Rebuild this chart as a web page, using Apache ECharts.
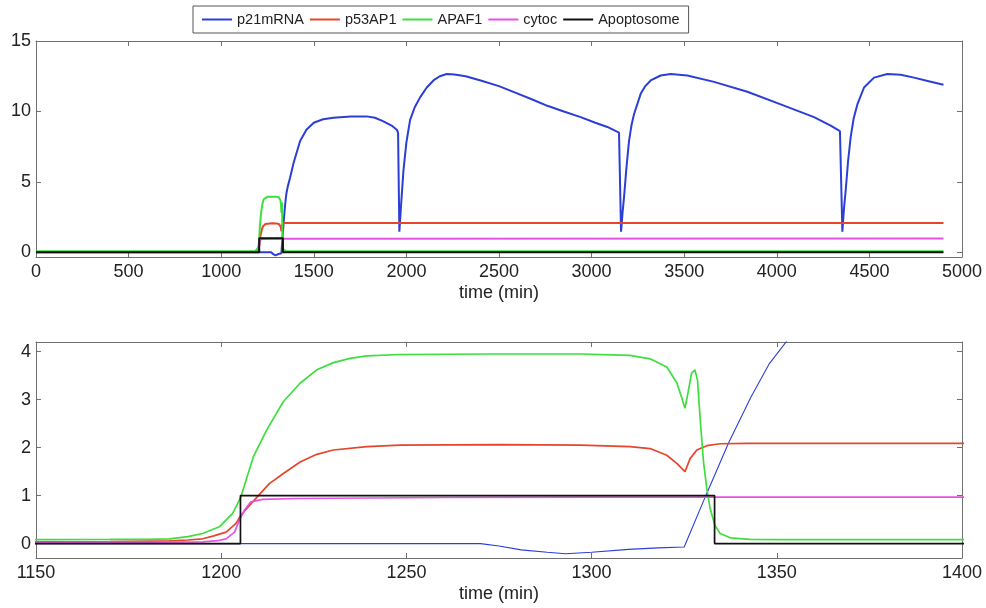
<!DOCTYPE html>
<html>
<head>
<meta charset="utf-8">
<script src="https://cdn.jsdelivr.net/npm/echarts@6/dist/echarts.min.js"></script>
<style>html,body{margin:0;padding:0;background:#fff;}#chart{width:986px;height:608px;}</style>
</head>
<body>
<div id="chart"></div>
<script>
// ---- Data ----
const seriesNames = ['p21mRNA', 'p53AP1', 'APAF1', 'cytoc', 'Apoptosome'];

const p21Time = [0,1150,1270,1275,1281,1288,1293,1300,1310,1318,1325,1331,1337,1343,1348,1353,1360,1372,1390,1426,1460,1500,1550,1606,1700,1786,1830,1876,1920,1948,1955,1962,1972,1984,2000,2020,2045,2074,2110,2146,2180,2218,2260,2320,2401,2500,2581,2680,2761,2850,2941,3020,3085,3148,3159,3167,3175,3188,3202,3215,3229,3265,3290,3319,3373,3427,3517,3661,3841,4021,4201,4291,4341,4354,4362,4372,4385,4399,4415,4435,4471,4525,4597,4669,4741,4820,4900];
const p21Value = [0,0,0,-0.05,-0.13,-0.18,-0.21,-0.18,-0.12,-0.09,-0.07,1.03,2.1,3.05,3.75,4.25,4.7,5.3,6.3,7.9,8.7,9.2,9.45,9.55,9.65,9.65,9.55,9.3,9.0,8.7,8.5,1.46,3.5,5.8,7.8,9.4,10.3,11.0,11.7,12.2,12.5,12.66,12.62,12.5,12.2,11.8,11.37,10.85,10.4,10.0,9.6,9.2,8.9,8.5,1.46,2.8,3.9,6.0,7.9,9.0,9.8,11.25,11.8,12.2,12.55,12.66,12.55,12.1,11.4,10.5,9.6,9.0,8.6,1.46,3.0,4.4,6.5,8.2,9.5,10.5,11.7,12.4,12.66,12.6,12.4,12.15,11.9];

const p53Time = [0,1150,1170,1186,1191,1195,1198,1201.3,1204,1205.3,1208.5,1213,1216.8,1221.3,1225.8,1230.3,1239.3,1248.3,1275,1297,1310.4,1315.8,1320.3,1323,1325.2,1326.6,1328.4,1331.1,1334.7,1342,4900];
const p53Value = [0.03,0.034,0.04,0.055,0.075,0.10,0.16,0.24,0.42,0.59,0.87,1.25,1.46,1.70,1.86,1.95,2.02,2.05,2.06,2.05,2.02,1.98,1.84,1.67,1.5,1.77,1.95,2.04,2.08,2.09,2.09];

const apafTime = [0,1150,1170,1180,1186,1191,1195,1199.5,1203.1,1205.3,1206.7,1208.7,1212.3,1216.8,1221.3,1225.8,1230.3,1234.8,1239.3,1248.3,1275,1297,1310.4,1315.8,1320.3,1323,1324.3,1325.2,1326.1,1327,1327.9,1328.6,1329.3,1330.2,1331.1,1332,1333.3,1334.7,1337.4,1342.8,1350,4900];
const apafValue = [0.08,0.083,0.086,0.09,0.10,0.145,0.21,0.35,0.63,0.97,1.32,1.81,2.37,2.96,3.34,3.62,3.77,3.86,3.91,3.94,3.95,3.95,3.92,3.85,3.68,3.35,3.05,2.82,3.17,3.55,3.62,3.4,2.61,1.71,1.15,0.73,0.38,0.21,0.12,0.09,0.083,0.083];

const cytocTime = [0,1150,1195,1199,1201.3,1203.6,1204.9,1206.3,1208,1211.2,1220,1260,1300,4900];
const cytocValue = [0.02,0.02,0.034,0.06,0.10,0.24,0.49,0.70,0.87,0.92,0.94,0.96,0.97,0.98];

const apoTime = [0,1205.2,1205.2,1333.2,1333.2,4900];
const apoValue = [0,0,1,1,0,0];

const yTicksTop = [0, 5, 10, 15];
const yTicksBottom = [0, 1, 2, 3, 4];

// ---- Styling ----
const colors = ['#2b3fd6', '#e6452c', '#3ede3e', '#e552e5', '#111111'];
const FONT = "'Liberation Sans', Arial, sans-serif";
const AX = '#707070';

function pairs(t, v) { return t.map((x, i) => [x, v[i]]); }
const allData = [pairs(p21Time, p21Value), pairs(p53Time, p53Value), pairs(apafTime, apafValue), pairs(cytocTime, cytocValue), pairs(apoTime, apoValue)];

function xAxisDef(grid, min, max, interval, pos) {
  const main = pos === 'bottom';
  return {
    gridIndex: grid, type: 'value', min: min, max: max, interval: interval, position: pos,
    axisLine: { show: true, onZero: false, lineStyle: { color: AX, width: 1 } },
    axisTick: { show: true, inside: true, length: 5, lineStyle: { color: AX } },
    axisLabel: { show: main, color: '#222', fontSize: 18, fontFamily: FONT, margin: 6, formatter: v => String(v) },
    splitLine: { show: false },
    name: main ? 'time (min)' : '', nameLocation: 'middle', nameGap: 27,
    nameTextStyle: { color: '#222', fontSize: 18, fontFamily: FONT }
  };
}
function yAxisDef(grid, min, max, ticks, pos) {
  const main = pos === 'left';
  return {
    gridIndex: grid, type: 'value', min: min, max: max, position: pos,
    axisLine: { show: true, onZero: false, lineStyle: { color: AX, width: 1 } },
    axisTick: { show: true, inside: true, length: 5, customValues: ticks, lineStyle: { color: AX } },
    axisLabel: { show: main, customValues: ticks, color: '#222', fontSize: 18, fontFamily: FONT, margin: 5, formatter: v => String(v) },
    splitLine: { show: false }
  };
}

const series = [];
[0, 1].forEach(g => {
  seriesNames.forEach((name, i) => {
    let w = g === 0 ? 2 : 1.7;
    if (g === 1 && i === 0) w = 1.1;
    series.push({
      name: name, type: 'line', xAxisIndex: g * 2, yAxisIndex: g * 2,
      data: allData[i], symbol: 'none', smooth: false, clip: true,
      lineStyle: { color: colors[i], width: w }, itemStyle: { color: colors[i] },
      animation: false, z: 2 + i
    });
  });
});

const option = {
  backgroundColor: '#ffffff',
  animation: false,
  legend: {
    data: seriesNames, left: 193, top: 6, orient: 'horizontal',
    icon: 'rect', padding: [6, 9], itemWidth: 30, itemHeight: 2, itemGap: 6,
    borderColor: '#555', borderWidth: 1, borderRadius: 0, backgroundColor: '#fff',
    textStyle: { color: '#222', fontSize: 14.5, fontFamily: FONT, lineHeight: 14 }
  },
  grid: [
    { left: 36, top: 41, width: 926, height: 216, containLabel: false },
    { left: 36, top: 342, width: 926, height: 216, containLabel: false }
  ],
  xAxis: [
    xAxisDef(0, 0, 5000, 500, 'bottom'),
    xAxisDef(0, 0, 5000, 500, 'top'),
    xAxisDef(1, 1150, 1400, 50, 'bottom'),
    xAxisDef(1, 1150, 1400, 50, 'top')
  ],
  yAxis: [
    yAxisDef(0, -0.33, 15, yTicksTop, 'left'),
    yAxisDef(0, -0.33, 15, yTicksTop, 'right'),
    yAxisDef(1, -0.3, 4.2, yTicksBottom, 'left'),
    yAxisDef(1, -0.3, 4.2, yTicksBottom, 'right')
  ],
  series: series
};

const chart = echarts.init(document.getElementById('chart'), null, { renderer: 'canvas' });
chart.setOption(option);
</script>
</body>
</html>
